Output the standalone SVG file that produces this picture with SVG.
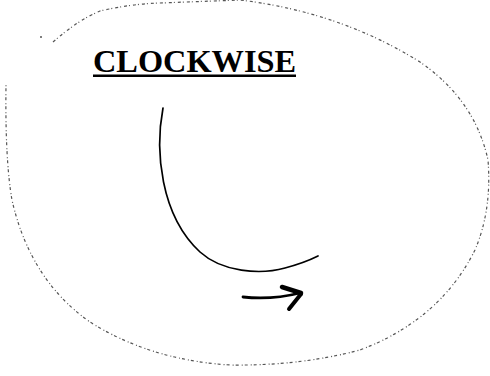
<svg xmlns="http://www.w3.org/2000/svg" width="490" height="376" viewBox="0 0 490 376">
<style>
.outer{fill:none;stroke:#555;stroke-width:1.2;stroke-dasharray:3 2 1 3;}
.inner{fill:none;stroke:#000;stroke-width:1.7;stroke-linecap:round;}
.arrow{fill:none;stroke:#000;stroke-linecap:round;stroke-linejoin:round;}
.title{font-family:"Liberation Serif","Times New Roman",serif;font-weight:bold;font-size:32px;fill:#000;}
</style>
<rect width="490" height="376" fill="#fff"/>
<g id="outer-loop">
<path class="outer" d="M53,42 Q78,20 100,11 Q130,4 160,3 L240,0 Q340,12 420,62 Q475,100 488,160 Q492,210 475,250 Q440,320 360,350 Q300,366 230,365 Q150,360 90,322 Q30,280 12,200 Q5,160 6,85"/>
<circle cx="41" cy="37" r="1" fill="#555"/>
</g>
<g id="title">
<text class="title" x="93" y="72" textLength="203" lengthAdjust="spacingAndGlyphs">CLOCKWISE</text>
<rect x="93" y="74.5" width="203" height="2.5" fill="#000"/>
</g>
<g id="connectors">
<path class="inner" d="M163,108 C155,150 160,215 200,252 C222,272 260,275 285,268 C300,264 310,260 318,256"/>
<path class="arrow" stroke-width="2.8" d="M243,297 Q272,300 300,293"/>
<path class="arrow" stroke-width="4.5" d="M282,287 L301,293"/>
<path class="arrow" stroke-width="4" d="M301,294 L289,309"/>
</g>
</svg>
